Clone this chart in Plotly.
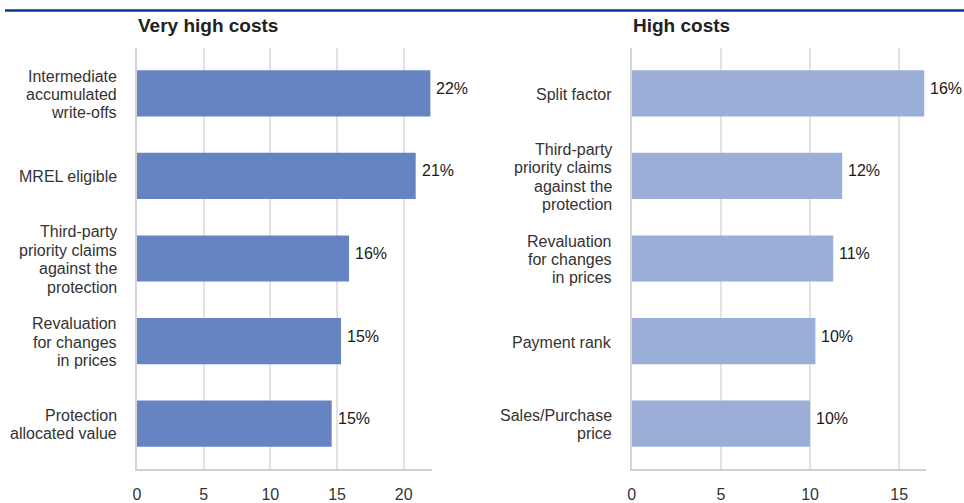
import plotly.graph_objects as go

# ---- data ----
left_title = "Very high costs"
left_categories = [
    "Intermediate<br>accumulated<br>write-offs",
    "MREL eligible",
    "Third-party<br>priority claims<br>against the<br>protection",
    "Revaluation<br>for changes<br>in prices",
    "Protection<br>allocated value",
]
left_values = [22.0, 20.9, 15.9, 15.3, 14.6]

right_title = "High costs"
right_categories = [
    "Split factor",
    "Third-party<br>priority claims<br>against the<br>protection",
    "Revaluation<br>for changes<br>in prices",
    "Payment rank",
    "Sales/Purchase<br>price",
]
right_values = [16.4, 11.8, 11.3, 10.3, 10.0]

left_ticks = [0, 5, 10, 15, 20]
right_ticks = [0, 5, 10, 15]

# ---- figure ----
W, H = 964, 503
FONT = "Liberation Sans, Arial, sans-serif"
LEFT_COLOR = "#6784c2"
RIGHT_COLOR = "#9aaed7"
LINE_STEP = 18.4

def px_x(p):
    return p / W

def px_y(p):
    return 1 - p / H

fig = go.Figure()

fig.add_trace(go.Bar(
    x=left_values, y=left_categories, orientation="h",
    marker=dict(color=LEFT_COLOR, line=dict(width=0)),
    width=0.56, xaxis="x", yaxis="y", showlegend=False, hoverinfo="x",
))
fig.add_trace(go.Bar(
    x=right_values, y=right_categories, orientation="h",
    marker=dict(color=RIGHT_COLOR, line=dict(width=0)),
    width=0.56, xaxis="x2", yaxis="y2", showlegend=False, hoverinfo="x",
))

annotations = []
for vals, cats, xr, yr in [(left_values, left_categories, "x", "y"),
                           (right_values, right_categories, "x2", "y2")]:
    for v, c in zip(vals, cats):
        # value label
        annotations.append(dict(
            x=v, y=c, xref=xr, yref=yr, text=f"{round(v)}%",
            showarrow=False, xanchor="left", yanchor="middle",
            xshift=4, yshift=5,
            font=dict(family=FONT, size=16, color="#1a1a1a"),
        ))
        # category label, line by line (tighter line spacing)
        lines = c.split("<br>")
        n = len(lines)
        for i, ln in enumerate(lines):
            off = ((n - 1) / 2 - i) * LINE_STEP - 1
            annotations.append(dict(
                x=0, y=c, xref=f"{xr} domain", yref=yr, text=ln,
                showarrow=False, xanchor="right", yanchor="middle",
                xshift=-18, yshift=off,
                font=dict(family=FONT, size=16, color="#333333"),
            ))

plot_top, plot_bottom = 48, 469
ydom = [px_y(plot_bottom), px_y(plot_top)]

for title, x0 in [(left_title, 137), (right_title, 631.7)]:
    annotations.append(dict(
        x=px_x(x0 - 1), y=px_y(26), xref="paper", yref="paper",
        text=f"<b>{title}</b>", showarrow=False,
        xanchor="left", yanchor="middle",
        font=dict(family=FONT, size=19, color="#222222"),
    ))

xaxis_common = dict(
    showgrid=True, gridcolor="#e3e3e3", gridwidth=1.5,
    showline=True, linecolor="#cfcfcf", linewidth=1.5,
    zeroline=False, ticks="outside", ticklen=10,
    tickcolor="rgba(0,0,0,0)",
    tickfont=dict(family=FONT, size=16, color="#333333"),
    automargin=False, fixedrange=True,
)
yaxis_common = dict(
    type="category", showgrid=False, zeroline=False,
    showline=True, linecolor="#d5d5d5", linewidth=1.5,
    showticklabels=False, ticks="",
    range=[4.55, -0.55], automargin=False, fixedrange=True,
    domain=ydom,
)

fig.update_layout(
    width=W, height=H,
    margin=dict(l=0, r=0, t=0, b=0),
    paper_bgcolor="white", plot_bgcolor="white",
    xaxis=dict(domain=[px_x(137), px_x(431.7)], range=[0, 22.1],
               tickvals=left_ticks, anchor="y", **xaxis_common),
    yaxis=dict(anchor="x", categoryorder="array",
               categoryarray=left_categories, **yaxis_common),
    xaxis2=dict(domain=[px_x(631.7), px_x(926)], range=[0, 16.5],
                tickvals=right_ticks, anchor="y2", **xaxis_common),
    yaxis2=dict(anchor="x2", categoryorder="array",
                categoryarray=right_categories, **yaxis_common),
    annotations=annotations,
    shapes=[dict(type="line", xref="paper", yref="paper",
                 x0=px_x(5), x1=1, y0=px_y(10.5), y1=px_y(10.5),
                 line=dict(color="#0a3597", width=2.5))],
    font=dict(family=FONT),
)

fig.write_html(
    "out.html",
    config={"displayModeBar": False},
    post_script="document.body.style.margin='0';document.body.style.overflow='hidden';",
)
